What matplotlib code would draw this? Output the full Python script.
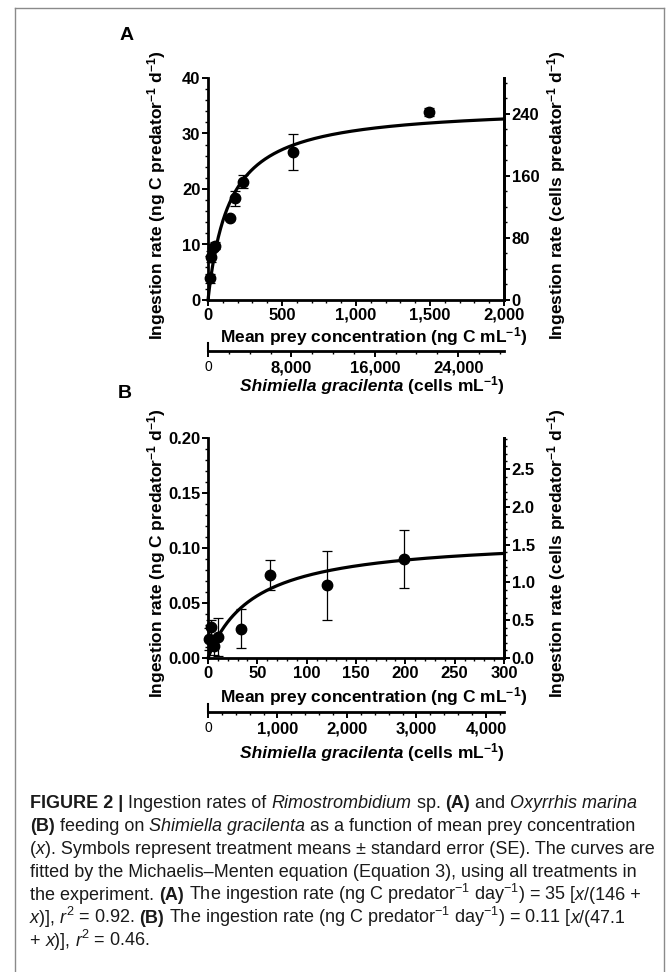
import numpy as np
import matplotlib
matplotlib.use("Agg")
import matplotlib.pyplot as plt
from matplotlib.ticker import MultipleLocator, FuncFormatter
from matplotlib import font_manager
from matplotlib.lines import Line2D

W, H = 671, 972

# panel A: Rimostrombidium sp. on Shimiella gracilenta
a_conc = [11, 22, 35, 50, 146, 185, 236, 574, 1491]
a_rate = [3.9, 7.8, 9.4, 9.8, 14.7, 18.3, 21.3, 26.6, 33.9]
a_err = [0.8, 1.0, 0.5, 0.6, 0.3, 1.35, 1.15, 3.25, 0.7]
a_vmax, a_ks = 35, 146

# panel B: Oxyrrhis marina on Shimiella gracilenta
b_conc = [1, 3.4, 6, 10, 33, 62.5, 121, 198.6]
b_rate = [0.017, 0.028, 0.011, 0.019, 0.0267, 0.0754, 0.0663, 0.090]
b_err = [0.010, 0.007, 0.008, 0.017, 0.0175, 0.0135, 0.0313, 0.0267]
b_vmax, b_ks = 0.11, 47.1

cells_per_ngC = 14.2

plt.rcParams['mathtext.default'] = 'regular'
CHART_FONT = 'Liberation Sans'
TICK_SIZE = 12
LABEL_SIZE = 12.5


def pick_caption_font():
    for name in ['Liberation Sans Narrow', 'Liberation Sans']:
        try:
            font_manager.findfont(name, fallback_to_default=False)
            return name
        except Exception:
            pass
    return 'DejaVu Sans'


CAP_FONT = pick_caption_font()


def fbox(l, t, r, b):
    return [l / W, 1 - b / H, (r - l) / W, (b - t) / H]


def fx(x):
    return x / W


def fy(y):
    return 1 - y / H


def comma_fmt(v, pos):
    return '{:,.0f}'.format(v)


def style_ticks(ax, axis='both'):
    ax.tick_params(axis=axis, which='major', direction='out', length=4.5, width=1.4,
                   labelsize=TICK_SIZE, pad=1)
    ax.tick_params(axis=axis, which='minor', direction='out', length=2.3, width=1.0)
    for lab in ax.get_xticklabels() + ax.get_yticklabels():
        lab.set_fontweight('bold')
        lab.set_fontfamily(CHART_FONT)


def draw_panel(top, bottom, xmax, ymax, yright_max, conc, rate, err, vmax, ks,
               xmaj, xmin, ymaj, ymin, rmaj, rmin, yfmt, rfmt, cmaj, cmin,
               sec_top, sec_bottom, sec_max):
    ax = fig.add_axes(fbox(208, top, 504, bottom))
    ax.set_xlim(0, xmax)
    ax.set_ylim(0, ymax)
    ax.spines['top'].set_visible(False)
    for s in ['left', 'bottom', 'right']:
        ax.spines[s].set_linewidth(2.0)
    ax.xaxis.set_major_locator(MultipleLocator(xmaj))
    ax.xaxis.set_minor_locator(MultipleLocator(xmin))
    ax.yaxis.set_major_locator(MultipleLocator(ymaj))
    ax.yaxis.set_minor_locator(MultipleLocator(ymin))
    ax.xaxis.set_major_formatter(FuncFormatter(comma_fmt))
    ax.yaxis.set_major_formatter(FuncFormatter(yfmt))
    style_ticks(ax)

    xs = np.linspace(0, xmax, 400)
    ax.plot(xs, vmax * xs / (ks + xs), color='black', lw=2.3, clip_on=False, zorder=3)
    ax.errorbar(conc, rate, yerr=err, fmt='o', color='black', ms=7.5, elinewidth=0.9,
                capsize=3.5, capthick=0.9, clip_on=False, zorder=4)

    ax2 = ax.twinx()
    ax2.set_ylim(0, yright_max)
    ax2.spines['top'].set_visible(False)
    ax2.spines['left'].set_visible(False)
    ax2.spines['bottom'].set_visible(False)
    ax2.spines['right'].set_linewidth(2.0)
    ax2.yaxis.set_major_locator(MultipleLocator(rmaj))
    ax2.yaxis.set_minor_locator(MultipleLocator(rmin))
    ax2.yaxis.set_major_formatter(FuncFormatter(rfmt))
    style_ticks(ax2, 'y')

    # second x axis in cell units
    ax3 = fig.add_axes(fbox(208, sec_top, 504, sec_bottom))
    ax3.set_xlim(0, sec_max)
    ax3.set_ylim(0, 1)
    ax3.patch.set_alpha(0)
    ax3.spines['top'].set_visible(False)
    ax3.spines['right'].set_visible(False)
    ax3.spines['left'].set_linewidth(1.5)
    ax3.spines['bottom'].set_linewidth(2.0)
    ax3.set_yticks([])
    ax3.xaxis.set_major_locator(MultipleLocator(cmaj))
    ax3.xaxis.set_minor_locator(MultipleLocator(cmin))
    ax3.xaxis.set_major_formatter(FuncFormatter(comma_fmt))
    style_ticks(ax3, 'x')
    ax3.tick_params(axis='x', pad=2)
    fig.canvas.draw()
    for lab in ax3.get_xticklabels():
        if lab.get_text() == '0':
            lab.set_fontsize(10)
            lab.set_fontweight('normal')
    return ax


fig = plt.figure(figsize=(W / 100, H / 100), dpi=100)

# frame around the figure
for (x0, y0, x1, y1) in [(15, 8, 664, 8), (15, 8, 15, 975), (664, 8, 664, 975)]:
    fig.add_artist(Line2D([fx(x0), fx(x1)], [fy(y0), fy(y1)], color='#8a8a8a', lw=1.0))

draw_panel(78, 300, 2000, 40, 286.4, a_conc, a_rate, a_err, a_vmax, a_ks,
           500, 100, 10, 2, 80, 20,
           lambda v, p: '{:.0f}'.format(v), lambda v, p: '{:.0f}'.format(v),
           8000, 2000, 343, 351, 2000 * cells_per_ngC)

draw_panel(438, 658, 300, 0.20, 2.91, b_conc, b_rate, b_err, b_vmax, b_ks,
           50, 10, 0.05, 0.01, 0.5, 0.1,
           lambda v, p: '{:.2f}'.format(v), lambda v, p: '{:.1f}'.format(v),
           1000, 200, 704, 712, 300 * cells_per_ngC)

lab_kw = dict(fontsize=LABEL_SIZE, fontweight='bold', family=CHART_FONT, ha='center', va='center')
fig.text(fx(127), fy(36), 'A', fontsize=14, fontweight='bold', family=CHART_FONT,
         ha='center', va='center')
fig.text(fx(125), fy(393), 'B', fontsize=14, fontweight='bold', family=CHART_FONT,
         ha='center', va='center')

for yc in (195, 553):
    fig.text(fx(157), fy(yc), 'Ingestion rate (ng C predator$^{-1}$ d$^{-1}$)',
             rotation=90, **lab_kw)
    fig.text(fx(557), fy(yc), 'Ingestion rate (cells predator$^{-1}$ d$^{-1}$)',
             rotation=90, **lab_kw)

for yc in (337, 697):
    fig.text(fx(374), fy(yc), 'Mean prey concentration (ng C mL$^{-1}$)', **lab_kw)

fig.canvas.draw()
renderer = fig.canvas.get_renderer()


def seg_width(txt, **kw):
    t1 = fig.text(0, 0, '|' + txt + '|', **kw)
    t2 = fig.text(0, 0, '||', **kw)
    w = t1.get_window_extent(renderer).width - t2.get_window_extent(renderer).width
    t1.remove()
    t2.remove()
    return w


def rich_line(x, y, parts, base_kw, ha='left'):
    widths = []
    for txt, kw in parts:
        k = dict(base_kw)
        k.update(kw)
        widths.append(seg_width(txt, **k))
    total = sum(widths)
    if ha == 'center':
        x = x - total / 2
    for (txt, kw), w in zip(parts, widths):
        k = dict(base_kw)
        k.update(kw)
        fig.text(fx(x), fy(y), txt, va='baseline', ha='left', **k)
        x += w


# cell-unit axis titles
chart_kw = dict(fontsize=LABEL_SIZE, fontweight='bold', family=CHART_FONT)
IT = dict(style='italic')
for yb in (391, 758):
    rich_line(372, yb, [('Shimiella gracilenta', IT), (' (cells mL$^{-1}$)', {})],
              chart_kw, ha='center')

# caption
cap_kw = dict(fontsize=13, family=CAP_FONT, color='#1a1a1a')
BF = dict(fontweight='bold')
caption = [
    [('FIGURE 2 |', BF), (' Ingestion rates of ', {}), ('Rimostrombidium', IT), (' sp. ', {}),
     ('(A)', BF), (' and ', {}), ('Oxyrrhis marina', IT)],
    [('(B)', BF), (' feeding on ', {}), ('Shimiella gracilenta', IT),
     (' as a function of mean prey concentration', {})],
    [('(', {}), ('x', IT), ('). Symbols represent treatment means \u00b1 standard error (SE). The curves are', {})],
    [('fitted by the Michaelis\u2013Menten equation (Equation 3), using all treatments in', {})],
    [('the experiment. ', {}), ('(A)', BF),
     (' The ingestion rate (ng C predator$^{-1}$ day$^{-1}$) = 35 [', {}), ('x', IT), ('/(146 +', {})],
    [('x', IT), (')], ', {}), ('r', IT), ('$^{2}$ = 0.92. ', {}), ('(B)', BF),
     (' The ingestion rate (ng C predator$^{-1}$ day$^{-1}$) = 0.11 [', {}), ('x', IT), ('/(47.1', {})],
    [('+ ', {}), ('x', IT), (')], ', {}), ('r', IT), ('$^{2}$ = 0.46.', {})],
]
y0 = 808
for i, line in enumerate(caption):
    rich_line(30, y0 + i * 23, line, cap_kw)

fig.savefig('out.png', dpi=100)
